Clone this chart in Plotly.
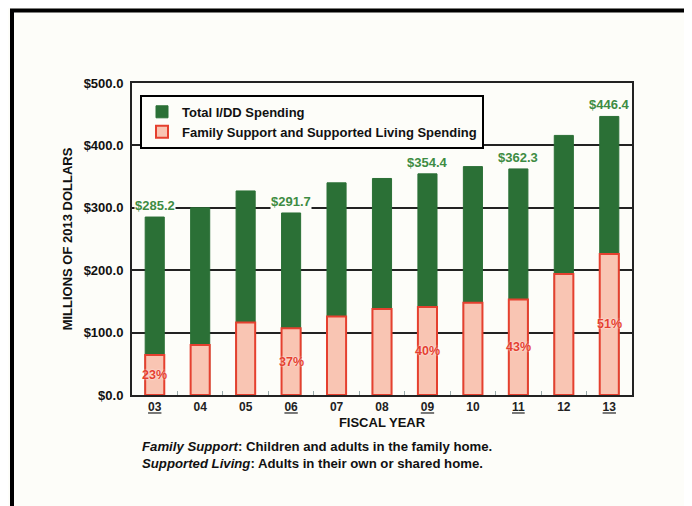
import plotly.graph_objects as go

years = ["03", "04", "05", "06", "07", "08", "09", "10", "11", "12", "13"]
tick_text = ["<u>03</u>", "04", "05", "<u>06</u>", "07", "08", "<u>09</u>", "10", "<u>11</u>", "12", "<u>13</u>"]
total_spending = [285.2, 300.0, 327.0, 291.7, 340.0, 347.0, 354.4, 366.0, 362.3, 416.0, 446.4]
family_supported = [64.0, 80.0, 116.0, 107.0, 126.0, 138.0, 141.0, 148.0, 153.0, 194.0, 226.0]
total_labels = ["$285.2", "", "", "$291.7", "", "", "$354.4", "", "$362.3", "", "$446.4"]
pct_labels = ["23%", "", "", "37%", "", "", "40%", "", "43%", "", "51%"]

GREEN = "#2b7036"
GREEN_TXT = "#3d8c43"
PINK = "#f9c5b3"
RED = "#e5402f"
BG = "#fdfdf9"
FONT = "Liberation Sans, Arial, sans-serif"

fig = go.Figure()
fig.add_trace(go.Bar(
    x=years, y=total_spending, name="<b>Total I/DD Spending</b>",
    marker=dict(color=GREEN, line=dict(color=GREEN, width=1)),
    width=0.42,
))
fig.add_trace(go.Bar(
    x=years, y=family_supported,
    name="<b>Family Support and Supported Living Spending</b>",
    marker=dict(color=PINK, line=dict(color=RED, width=2)),
    width=0.42,
))

for i, (tot, lab) in enumerate(zip(total_spending, total_labels)):
    if lab:
        fig.add_annotation(
            x=i, y=tot, text="<b>" + lab + "</b>", showarrow=False,
            yanchor="bottom", yshift=3, bgcolor=BG, borderpad=0,
            font=dict(family=FONT, size=13, color=GREEN_TXT),
        )

for i, (fs, lab) in enumerate(zip(family_supported, pct_labels)):
    if lab:
        fig.add_annotation(
            x=i, y=fs / 2, text="<b>" + lab + "</b>", showarrow=False,
            yanchor="middle",
            font=dict(family=FONT, size=12.5, color=RED,
                      shadow="0px 0px 2px white"),
        )

fig.add_annotation(
    xref="paper", yref="paper", x=0.016, y=-0.135, xanchor="left", yanchor="top",
    align="left", showarrow=False,
    text="<b><i>Family Support</i>: Children and adults in the family home.</b><br>"
         "<b><i>Supported Living</i>: Adults in their own or shared home.</b>",
    font=dict(family=FONT, size=13.2, color="#111"),
)

# outer frame
fig.add_shape(type="path", xref="paper", yref="paper",
              path="M -0.24,-0.5 L -0.24,1.232 L 1.112,1.232 L 1.112,-0.5",
              line=dict(color="black", width=4))

fig.update_layout(
    width=692, height=506,
    margin=dict(l=124, r=68, t=75, b=119),
    paper_bgcolor=BG, plot_bgcolor=BG,
    barmode="overlay",
    showlegend=True,
    legend=dict(x=0.016, y=0.962, xanchor="left", yanchor="top",
                bgcolor=BG, bordercolor="black", borderwidth=2,
                font=dict(family=FONT, size=13, color="#111"),
                tracegroupgap=0, itemwidth=30),
    font=dict(family=FONT, color="#111"),
    xaxis=dict(
        type="category", range=[-0.5, 10.5],
        tickmode="array", tickvals=years, ticktext=["<b>" + t + "</b>" for t in tick_text],
        tickfont=dict(family=FONT, size=12, color="#222"),
        ticks="inside", tickson="boundaries", ticklen=4, tickcolor="#9aa",
        showline=True, linecolor="#222", linewidth=2, mirror=True,
        title=dict(text="<b>FISCAL YEAR</b>", font=dict(family=FONT, size=13, color="#111"),
                   standoff=4),
    ),
    yaxis=dict(
        range=[0, 500], dtick=100, tickprefix="$", tickformat=".1f",
        tickfont=dict(family=FONT, size=13, color="#111", weight="bold"),
        showgrid=True, gridcolor="#222", gridwidth=2,
        showline=True, linecolor="#222", linewidth=2, mirror=True,
        zeroline=False, ticks="", ticklabelstandoff=4,
        title=dict(text="<b>MILLIONS OF 2013 DOLLARS</b>",
                   font=dict(family=FONT, size=13, color="#111"), standoff=8),
    ),
)

fig.write_html("out.html")
